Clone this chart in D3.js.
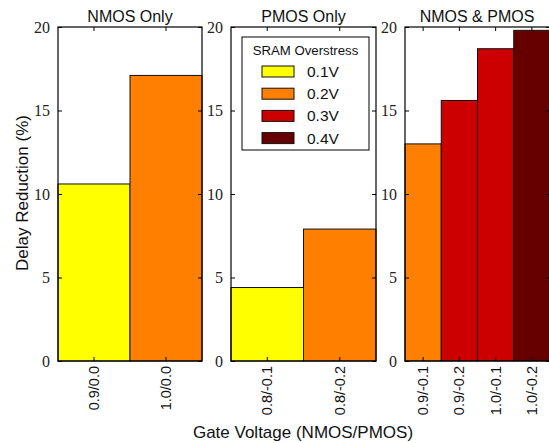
<!DOCTYPE html>
<html>
<head>
<meta charset="utf-8">
<script src="https://cdn.jsdelivr.net/npm/d3@7"></script>
<style>
  body { margin: 0; background: #fff; }
  svg { display: block; }
</style>
</head>
<body>
<svg id="chart" width="549" height="443"></svg>
<script>
// ---- data ----
const panelTitles = ["NMOS Only", "PMOS Only", "NMOS & PMOS"];
const nmosCategories = ["0.9/0.0", "1.0/0.0"];
const nmosValues = [10.6, 17.1];
const nmosStress = ["0.1V", "0.2V"];
const pmosCategories = ["0.8/-0.1", "0.8/-0.2"];
const pmosValues = [4.4, 7.9];
const pmosStress = ["0.1V", "0.2V"];
const bothCategories = ["0.9/-0.1", "0.9/-0.2", "1.0/-0.1", "1.0/-0.2"];
const bothValues = [13.0, 15.6, 18.7, 19.8];
const bothStress = ["0.2V", "0.3V", "0.3V", "0.4V"];
const stressLevels = ["0.1V", "0.2V", "0.3V", "0.4V"];
const stressColors = ["#ffff00", "#ff8000", "#cc0000", "#660000"];
const yTicks = [0, 5, 10, 15, 20];

const svg = d3.select("#chart");
const color = d3.scaleOrdinal().domain(stressLevels).range(stressColors);
const y = d3.scaleLinear().domain([0, 20]).range([361, 27]);

const panels = [
  { title: panelTitles[0], cats: nmosCategories, vals: nmosValues, stress: nmosStress, x0: 58, x1: 202 },
  { title: panelTitles[1], cats: pmosCategories, vals: pmosValues, stress: pmosStress, x0: 231, x1: 376 },
  { title: panelTitles[2], cats: bothCategories, vals: bothValues, stress: bothStress, x0: 405, x1: 550 }
];

const sans = "'Liberation Sans', Arial, Helvetica, sans-serif";
const serif = "'Liberation Serif', 'Times New Roman', serif";

panels.forEach(p => {
  const x = d3.scaleBand().domain(p.cats).range([p.x0, p.x1]).padding(0);
  const g = svg.append("g");
  const data = p.cats.map((c, i) => ({ c, v: p.vals[i], s: p.stress[i] }));

  g.selectAll("rect.bar").data(data).enter().append("rect")
    .attr("class", "bar")
    .attr("x", d => x(d.c))
    .attr("width", x.bandwidth())
    .attr("y", d => y(d.v))
    .attr("height", d => y(0) - y(d.v))
    .attr("fill", d => color(d.s))
    .attr("stroke", "#111")
    .attr("stroke-width", 1);

  // frame
  g.append("rect")
    .attr("x", p.x0).attr("y", y(20))
    .attr("width", p.x1 - p.x0).attr("height", y(0) - y(20))
    .attr("fill", "none").attr("stroke", "#000").attr("stroke-width", 1.2);

  // left axis (inward ticks)
  const yl = d3.axisLeft(y).tickValues(yTicks).tickSize(-4).tickPadding(8).tickFormat(d3.format("d"));
  const gl = g.append("g").attr("transform", `translate(${p.x0},0)`).call(yl);
  gl.select(".domain").remove();
  gl.selectAll("text").style("font-family", serif).style("font-size", "16px").attr("fill", "#222");

  // right axis ticks
  const yr = d3.axisRight(y).tickValues(yTicks).tickSize(-4).tickFormat("");
  const gr = g.append("g").attr("transform", `translate(${p.x1},0)`).call(yr);
  gr.select(".domain").remove();

  // bottom axis
  const xb = d3.axisBottom(x).tickSize(-4).tickPadding(0);
  const gb = g.append("g").attr("transform", `translate(0,${y(0)})`).call(xb);
  gb.select(".domain").remove();
  gb.selectAll("text")
    .style("font-family", sans).style("font-size", "14.5px").attr("fill", "#111")
    .attr("text-anchor", "end")
    .attr("transform", "rotate(-90)")
    .attr("x", -5).attr("y", 0).attr("dy", "0.35em");

  // top ticks
  const xt = d3.axisTop(x).tickSize(-4).tickFormat("");
  const gt = g.append("g").attr("transform", `translate(0,${y(20)})`).call(xt);
  gt.select(".domain").remove();

  // title
  g.append("text")
    .attr("x", (p.x0 + Math.min(p.x1, 549)) / 2)
    .attr("y", 22)
    .attr("text-anchor", "middle")
    .style("font-family", sans).style("font-size", "16px").attr("fill", "#111")
    .text(p.title);
});

// legend
const leg = svg.append("g");
leg.append("rect").attr("x", 242).attr("y", 37).attr("width", 127).attr("height", 113)
  .attr("fill", "#fff").attr("stroke", "#000").attr("stroke-width", 1);
leg.append("text").attr("x", 305.5).attr("y", 55).attr("text-anchor", "middle")
  .style("font-family", sans).style("font-size", "13.2px").attr("fill", "#111").text("SRAM Overstress");
const li = leg.selectAll("g.item").data(stressLevels).enter().append("g").attr("class", "item")
  .attr("transform", (d, i) => `translate(0,${71.5 + i * 22.2})`);
li.append("rect").attr("x", 262).attr("y", -5.5).attr("width", 32).attr("height", 11)
  .attr("fill", d => color(d)).attr("stroke", "#111").attr("stroke-width", 1);
li.append("text").attr("x", 307).attr("y", 0).attr("dy", "0.36em")
  .style("font-family", sans).style("font-size", "15.5px").attr("fill", "#111").text(d => d);

// axis titles
svg.append("text").attr("transform", "translate(28,193) rotate(-90)")
  .attr("text-anchor", "middle").style("font-family", sans).style("font-size", "17px").attr("fill", "#111")
  .text("Delay Reduction (%)");
svg.append("text").attr("x", 303).attr("y", 438)
  .attr("text-anchor", "middle").style("font-family", sans).style("font-size", "17px").attr("fill", "#111")
  .text("Gate Voltage (NMOS/PMOS)");
</script>
</body>
</html>
